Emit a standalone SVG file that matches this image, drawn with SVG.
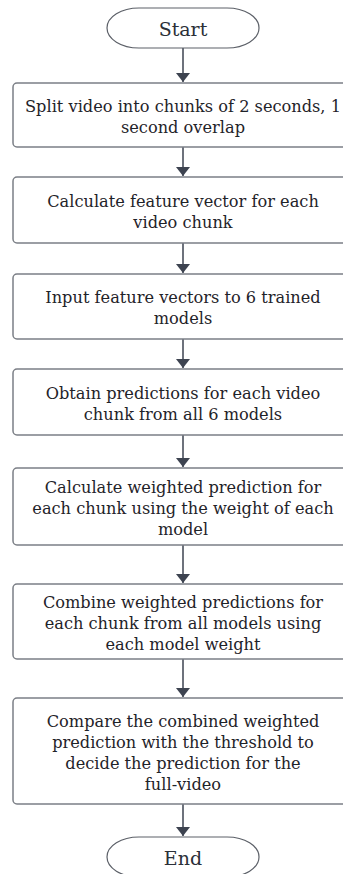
<svg xmlns="http://www.w3.org/2000/svg" width="343" height="874" viewBox="0 0 343 874">
<defs>
<marker id="ah" markerWidth="9" markerHeight="14" refX="9" refY="4.5" orient="auto" markerUnits="userSpaceOnUse" viewBox="0 0 9 9" preserveAspectRatio="none">
<path d="M0,0 L9,4.5 L0,9 Z" fill="#3d4350"/>
</marker>
<style>
.box{fill:#ffffff;stroke:#7b7f86;stroke-width:1.5}
.term{fill:#ffffff;stroke:#5c6068;stroke-width:1.2}
.t{font-family:"DejaVu Serif","Liberation Serif",serif;font-size:16.2px;fill:#1f2329;text-anchor:middle}
.tt{font-family:"DejaVu Serif","Liberation Serif",serif;font-size:19px;fill:#2b3038;text-anchor:middle}
.c{stroke:#3d4350;stroke-width:1.5;fill:none}
</style>
</defs>
<rect width="343" height="874" fill="#ffffff"/>
<g id="connectors">
<line class="c" x1="183" y1="48" x2="183" y2="82" marker-end="url(#ah)"/>
<line class="c" x1="183" y1="147" x2="183" y2="176" marker-end="url(#ah)"/>
<line class="c" x1="183" y1="243" x2="183" y2="273" marker-end="url(#ah)"/>
<line class="c" x1="183" y1="339" x2="183" y2="368" marker-end="url(#ah)"/>
<line class="c" x1="183" y1="435" x2="183" y2="467" marker-end="url(#ah)"/>
<line class="c" x1="183" y1="545" x2="183" y2="583" marker-end="url(#ah)"/>
<line class="c" x1="183" y1="659" x2="183" y2="697" marker-end="url(#ah)"/>
<line class="c" x1="183" y1="804" x2="183" y2="836" marker-end="url(#ah)"/>
</g>
<g id="start">
<rect class="term" x="107" y="8" width="152" height="40" rx="32" ry="20"/>
<text class="tt" x="183" y="36">Start</text>
</g>
<g id="n1">
<rect class="box" x="13" y="83" width="340" height="64" rx="4"/>
<text class="t" x="183" y="111.5">Split video into chunks of 2 seconds, 1</text>
<text class="t" x="183" y="132.5">second overlap</text>
</g>
<g id="n2">
<rect class="box" x="13" y="177" width="340" height="66" rx="4"/>
<text class="t" x="183" y="206.5">Calculate feature vector for each</text>
<text class="t" x="183" y="227.5">video chunk</text>
</g>
<g id="n3">
<rect class="box" x="13" y="274" width="340" height="65" rx="4"/>
<text class="t" x="183" y="303">Input feature vectors to 6 trained</text>
<text class="t" x="183" y="324">models</text>
</g>
<g id="n4">
<rect class="box" x="13" y="369" width="340" height="66" rx="4"/>
<text class="t" x="183" y="398.5">Obtain predictions for each video</text>
<text class="t" x="183" y="419.5">chunk from all 6 models</text>
</g>
<g id="n5">
<rect class="box" x="13" y="468" width="340" height="77" rx="4"/>
<text class="t" x="183" y="492.5">Calculate weighted prediction for</text>
<text class="t" x="183" y="513.5">each chunk using the weight of each</text>
<text class="t" x="183" y="534.5">model</text>
</g>
<g id="n6">
<rect class="box" x="13" y="584" width="340" height="75" rx="4"/>
<text class="t" x="183" y="607.5">Combine weighted predictions for</text>
<text class="t" x="183" y="628.5">each chunk from all models using</text>
<text class="t" x="183" y="649.5">each model weight</text>
</g>
<g id="n7">
<rect class="box" x="13" y="698" width="340" height="106" rx="4"/>
<text class="t" x="183" y="726.5">Compare the combined weighted</text>
<text class="t" x="183" y="747.5">prediction with the threshold to</text>
<text class="t" x="183" y="768.5">decide the prediction for the</text>
<text class="t" x="183" y="789.5">full-video</text>
</g>
<g id="end">
<rect class="term" x="107" y="837" width="152" height="40" rx="32" ry="20"/>
<text class="tt" x="183" y="865">End</text>
</g>
</svg>
